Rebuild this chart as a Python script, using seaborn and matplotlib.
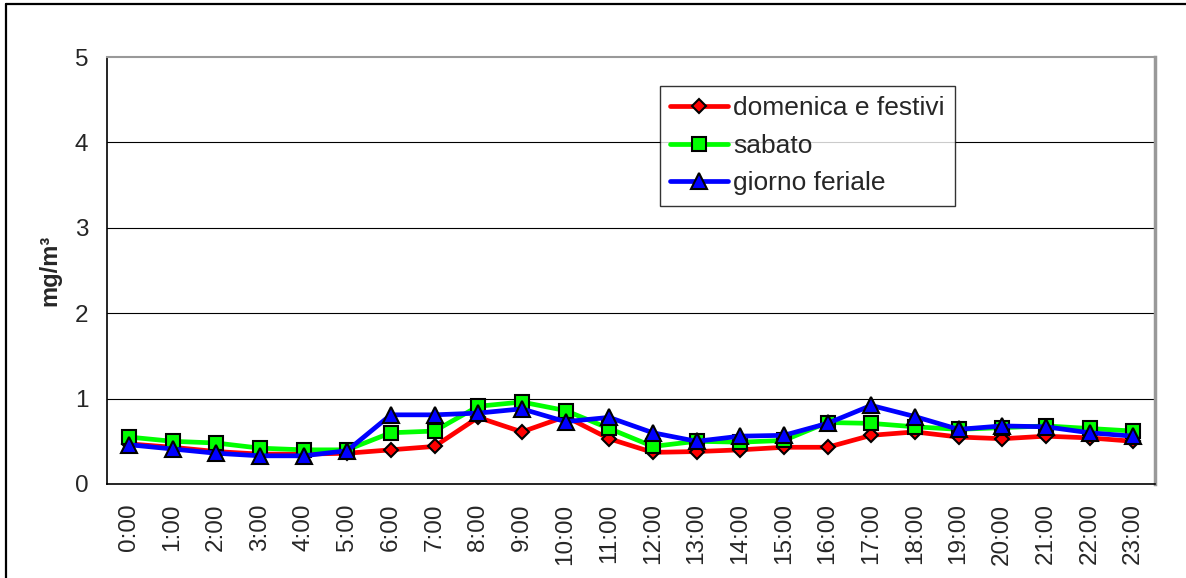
import numpy as np
import pandas as pd
import matplotlib
matplotlib.use("Agg")
import matplotlib.pyplot as plt
import seaborn as sns

ore = [f"{h}:00" for h in range(24)]

domenica = [0.47, 0.43, 0.38, 0.35, 0.35, 0.36, 0.40, 0.44, 0.78, 0.61, 0.79, 0.53,
            0.37, 0.38, 0.40, 0.43, 0.43, 0.57, 0.61, 0.55, 0.53, 0.56, 0.54, 0.50]
sabato = [0.55, 0.50, 0.48, 0.42, 0.40, 0.40, 0.60, 0.62, 0.91, 0.96, 0.86, 0.65,
          0.44, 0.50, 0.49, 0.51, 0.72, 0.71, 0.67, 0.64, 0.66, 0.68, 0.65, 0.62]
feriale = [0.46, 0.41, 0.36, 0.33, 0.33, 0.39, 0.81, 0.81, 0.83, 0.88, 0.73, 0.78,
           0.60, 0.50, 0.56, 0.57, 0.71, 0.92, 0.79, 0.64, 0.68, 0.67, 0.60, 0.56]

serie = ["domenica e festivi", "sabato", "giorno feriale"]
colori = ["#ff0000", "#00ff00", "#0000ff"]
marker = ["D", "s", "^"]
msize = [7.5, 10.5, 11.5]

df = pd.DataFrame({
    "ora": list(range(24)) * 3,
    "valore": domenica + sabato + feriale,
    "serie": [serie[0]] * 24 + [serie[1]] * 24 + [serie[2]] * 24,
})

sns.set_style("white")
plt.rcParams['font.family'] = ['Liberation Sans', 'DejaVu Sans']

fig = plt.figure(figsize=(11.86, 5.78), dpi=100)
ax = fig.add_axes([107/1186, 1 - 484/578, 1048/1186, 427/578])

for i, s in enumerate(serie):
    sns.lineplot(data=df[df["serie"] == s], x="ora", y="valore", ax=ax,
                 color=colori[i], lw=3.4, marker=marker[i], markersize=msize[i],
                 markeredgecolor="black", markeredgewidth=1.5, label=s)

ax.set_xlim(-0.5, 23.5)
ax.set_ylim(0, 5)
ax.set_yticks([0, 1, 2, 3, 4, 5])
ax.set_xticks(range(24))
ax.set_xticklabels(ore, rotation=90, fontsize=17.5)
ax.set_xticks(np.arange(-0.5, 24, 1), minor=True)
ax.tick_params(axis="x", which="major", length=0, pad=14)
ax.tick_params(axis="x", which="minor", length=6, width=1, color="black", direction="out")
ax.tick_params(axis="y", length=6.5, width=1, color="black", direction="out", labelsize=17.5, pad=7)
ax.set_xlabel("")
ax.set_ylabel("mg/m³", fontsize=17, fontweight="bold")
ax.yaxis.set_label_coords(-(107 - 61) / 1048, 0.5)

for y in [1, 2, 3, 4]:
    ax.axhline(y, color="black", lw=0.8, zorder=0)

for side in ["left", "bottom"]:
    ax.spines[side].set_color("black")
    ax.spines[side].set_linewidth(1.2)
ax.spines["top"].set_color("#999999")
ax.spines["top"].set_linewidth(1.5)
ax.spines["right"].set_color("#999999")
ax.spines["right"].set_linewidth(2.5)

leg = ax.legend(loc="upper left", bbox_to_anchor=((660 - 107) / 1048, (484 - 86) / 427),
                fontsize=19, frameon=True, fancybox=False, edgecolor="black",
                borderpad=0.38, borderaxespad=0, handlelength=2.2, handletextpad=0.2,
                labelspacing=0.52)
leg.get_frame().set_linewidth(1.0)

# bordo esterno (solo sopra e a sinistra)
fig.add_artist(plt.Line2D([6/1186, 1], [1 - 4/578, 1 - 4/578], transform=fig.transFigure,
                          color="black", lw=1.6))
fig.add_artist(plt.Line2D([6/1186, 6/1186], [0, 1 - 4/578], transform=fig.transFigure,
                          color="black", lw=1.6))

fig.savefig("out.png", dpi=100)
